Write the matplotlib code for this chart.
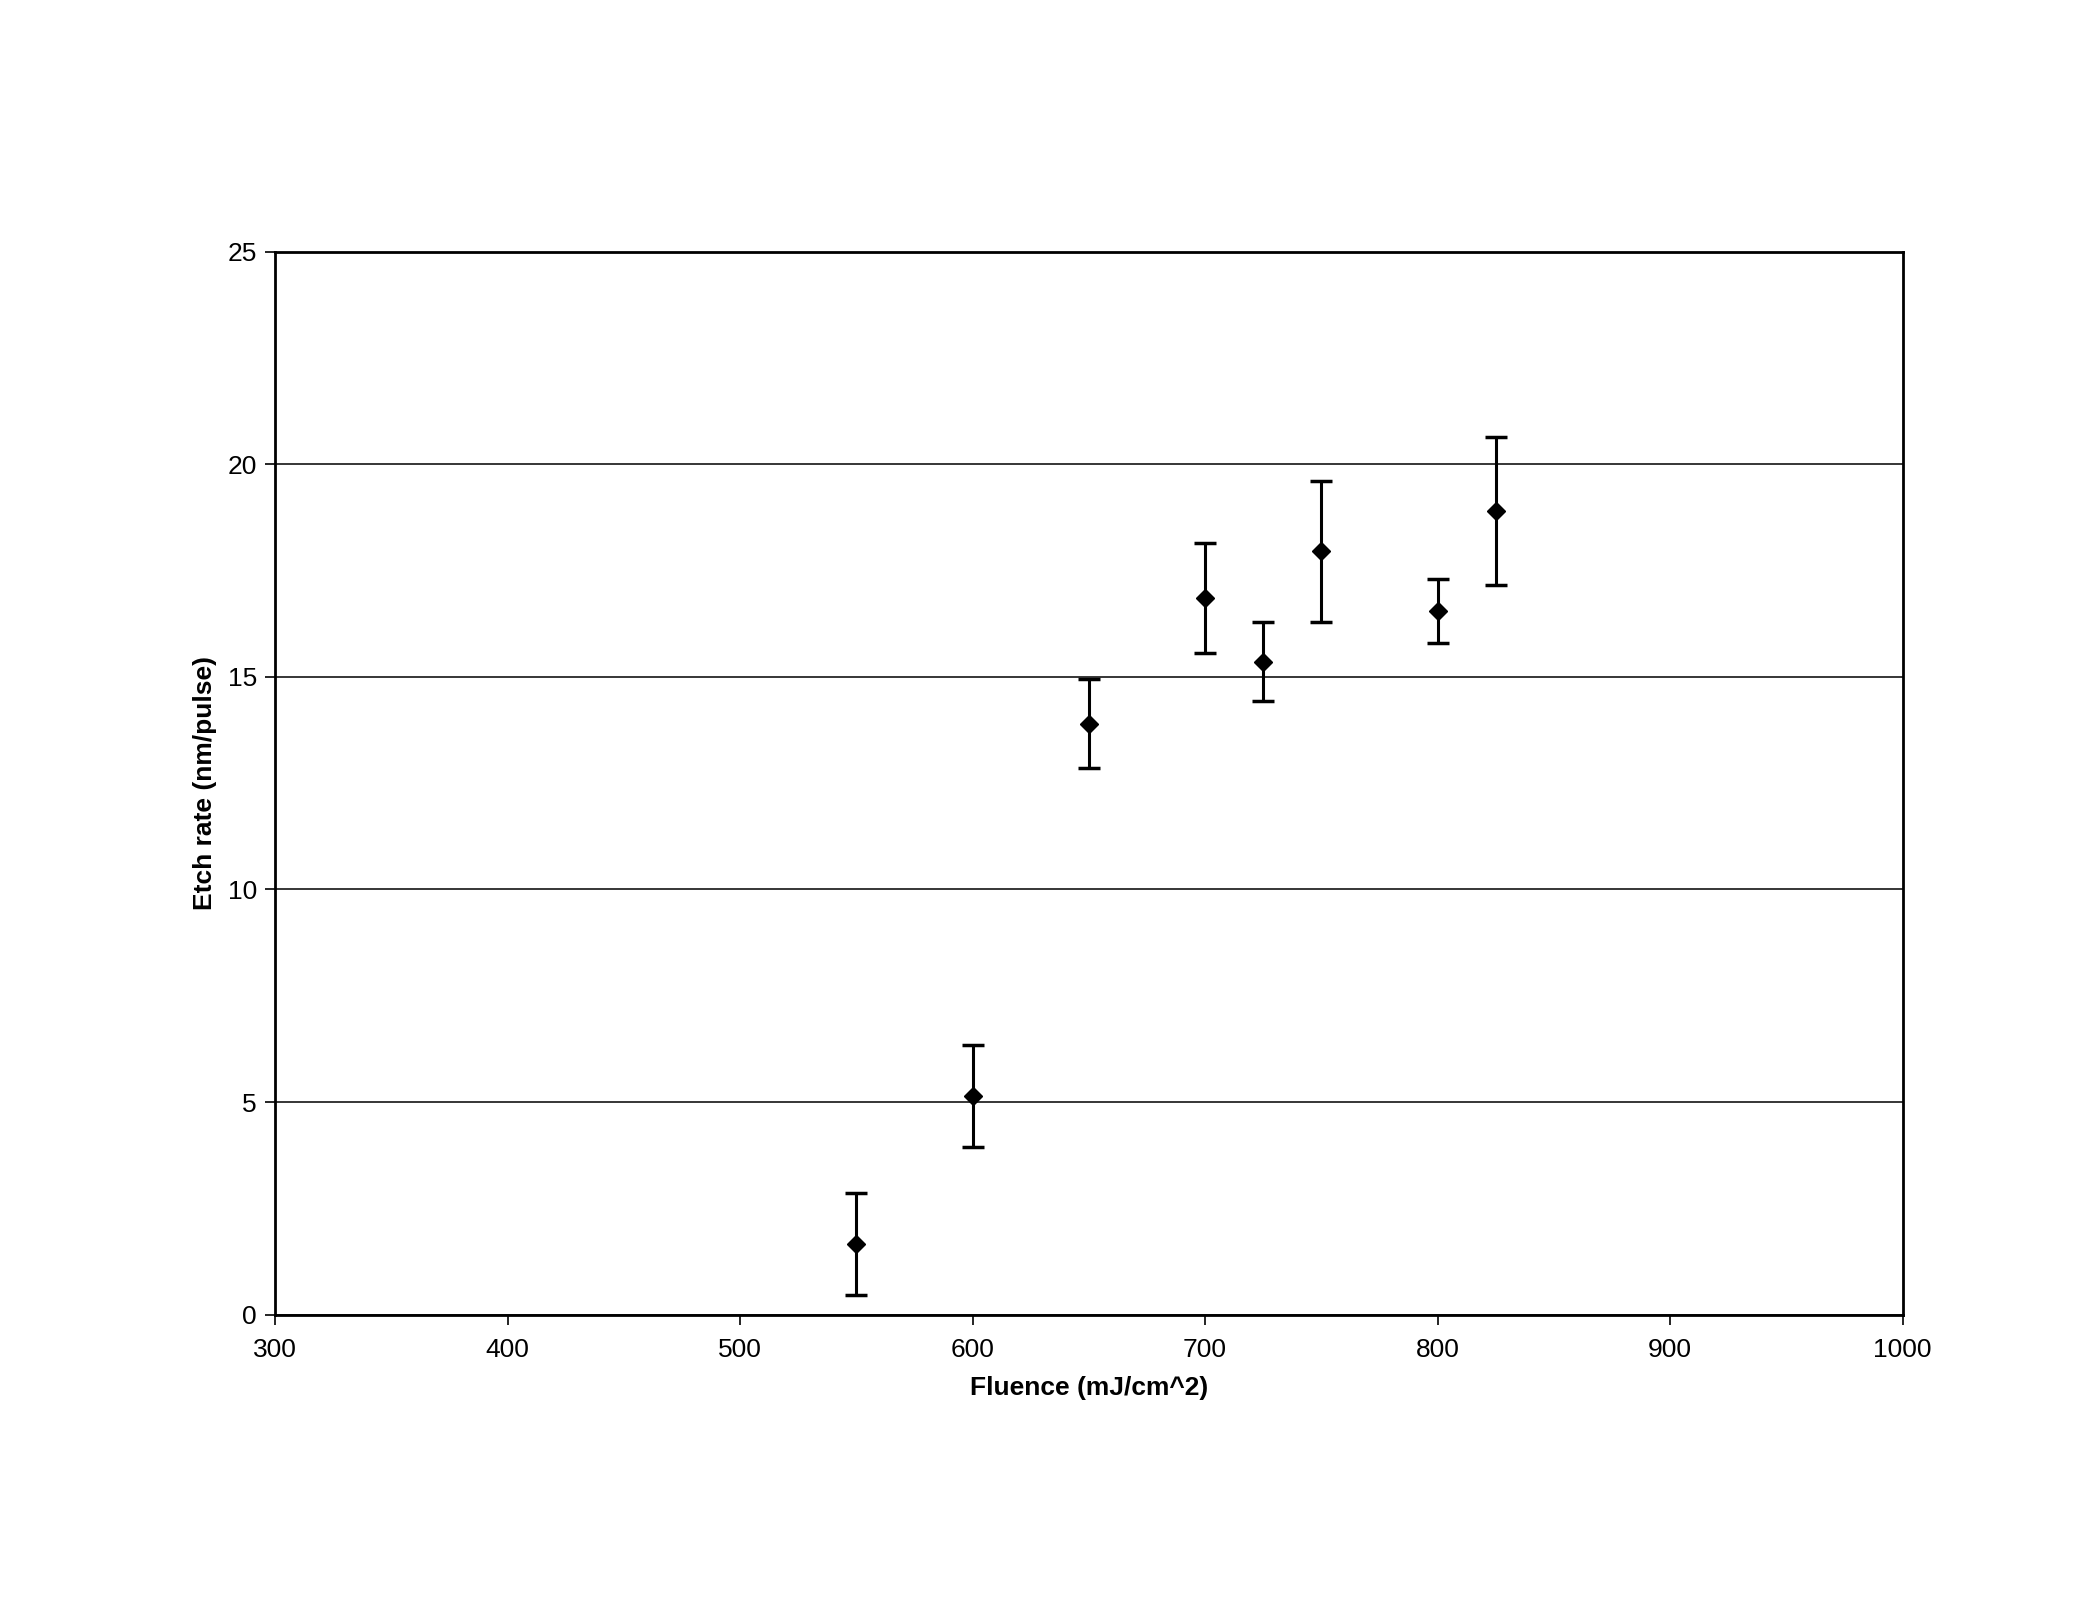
import matplotlib
matplotlib.use("Agg")
import matplotlib.pyplot as plt

# data
fluence = [550, 600, 650, 700, 725, 750, 800, 825]
etch_rate = [1.65, 5.15, 13.9, 16.85, 15.35, 17.95, 16.55, 18.9]
etch_err = [1.2, 1.2, 1.05, 1.3, 0.93, 1.65, 0.75, 1.75]

x_ticks = [300, 400, 500, 600, 700, 800, 900, 1000]
y_ticks = [0, 5, 10, 15, 20, 25]

plt.rcParams['font.family'] = ['Liberation Sans', 'DejaVu Sans']

fig = plt.figure(figsize=(21, 16.23), dpi=100)
ax = fig.add_axes([0.131, 0.19, 0.775, 0.655])

ax.errorbar(fluence, etch_rate, yerr=etch_err, fmt='D', color='black',
            markersize=9, ecolor='black', elinewidth=2.2, capsize=8, capthick=2.5)

ax.set_xlim(300, 1000)
ax.set_ylim(0, 25)
ax.set_xticks(x_ticks)
ax.set_yticks(y_ticks)
ax.yaxis.grid(True, color='black', linewidth=1.1)
ax.set_axisbelow(True)

for s in ax.spines.values():
    s.set_linewidth(2)
    s.set_color('black')

ax.tick_params(axis='both', direction='out', length=7, width=1.2, labelsize=19, colors='black')
ax.tick_params(axis='x', pad=10)
ax.tick_params(axis='y', pad=6)

ax.set_xlabel('Fluence (mJ/cm^2)', fontsize=19, fontweight='bold', labelpad=10)
ax.set_ylabel('Etch rate (nm/pulse)', fontsize=19, fontweight='bold', labelpad=8)

fig.savefig('out.png', dpi=100, facecolor='white')
